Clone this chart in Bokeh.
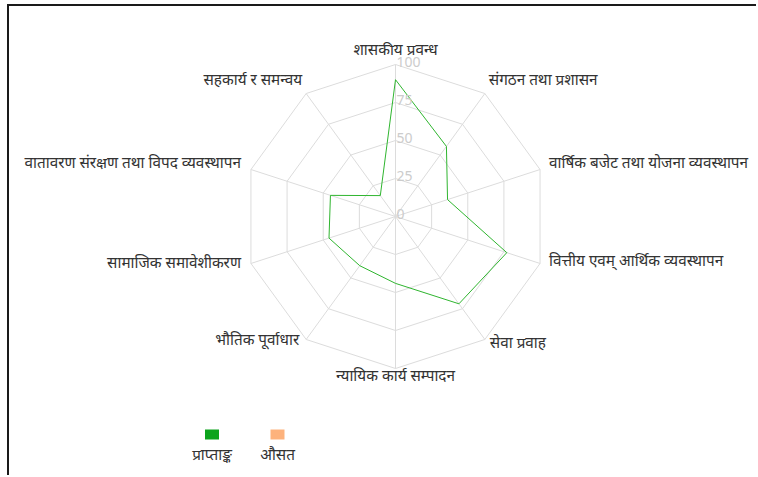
import numpy as np
from bokeh.plotting import figure
from bokeh.models import Range1d, ColumnDataSource
from bokeh.core.properties import value
from bokeh.embed import file_html
from bokeh.resources import INLINE

# ---- data ----
categories = [
    "शासकीय प्रवन्ध",
    "संगठन तथा प्रशासन",
    "वार्षिक बजेट तथा योजना व्यवस्थापन",
    "वित्तीय एवम् आर्थिक व्यवस्थापन",
    "सेवा प्रवाह",
    "न्यायिक कार्य सम्पादन",
    "भौतिक पूर्वाधार",
    "सामाजिक समावेशीकरण",
    "वातावरण संरक्षण तथा विपद व्यवस्थापन",
    "सहकार्य र समन्वय",
]
score = [90, 57, 36, 77, 71, 44, 40, 46, 45, 17]
tick_values = [0, 25, 50, 75, 100]
tick_labels = ["0", "25", "50", "75", "100"]
series_names = ["प्राप्ताङ्क", "औसत"]
series_colors = ["#0ca41c", "#fdb27c"]

# ---- layout ----
OX, OY = 9, 6                 # canvas origin on the page (after margin + border)
W, H = 758 - OX, 477 - OY
PX = 1.52                     # pixels per score unit
CX, CY = 395 - OX, 216 - OY   # centre on canvas (px)
FONT = value("Noto Sans")

p = figure(width=W, height=H, output_backend="svg", toolbar_location=None,
           x_range=Range1d(-CX / PX, (W - CX) / PX),
           y_range=Range1d(-(H - CY) / PX, CY / PX),
           min_border=0)
p.axis.visible = False
p.grid.visible = False
p.outline_line_color = None
p.background_fill_color = "white"
p.border_fill_color = "white"
p.styles = {"border-top": "2px solid #1a1a1a", "border-left": "2px solid #1a1a1a",
            "margin-top": f"{OY - 2}px", "margin-left": f"{OX - 2}px"}

n = len(categories)
ang = np.pi / 2 - np.arange(n) * 2 * np.pi / n
ux, uy = np.cos(ang), np.sin(ang)
vmax = tick_values[-1]

# rings
grid_col = "#dcdcdc"
for t in tick_values[1:]:
    xs = list(ux * t) + [ux[0] * t]
    ys = list(uy * t) + [uy[0] * t]
    p.line(xs, ys, line_color=grid_col, line_width=1)
# spokes
p.segment(x0=np.zeros(n), y0=np.zeros(n), x1=ux * vmax, y1=uy * vmax,
          line_color=grid_col, line_width=1)

# data polygon
sv = np.array(score, dtype=float)
p.line(list(ux * sv) + [ux[0] * sv[0]], list(uy * sv) + [uy[0] * sv[0]],
       line_color="#2fb52f", line_width=1)

# tick labels
p.text(x=[0] * len(tick_values), y=tick_values, text=tick_labels,
       x_offset=1, y_offset=-3, text_font=FONT, text_font_size="14px",
       text_color="#cccccc", text_baseline="alphabetic", text_align="left")

# point labels
aligns = ["center", "left", "left", "left", "left", "center", "right", "right", "right", "right"]
dx = [0, 4, 9, 9, 5, 0, -7, -10, -10, -4]
dy = [-16, -15, -8, -3, 3, 6, 0, -1, -8, -15]
src = ColumnDataSource(dict(x=ux * vmax, y=uy * vmax, t=categories,
                            a=aligns, dx=dx, dy=dy))
p.text(x="x", y="y", text="t", source=src, x_offset="dx", y_offset="dy",
       text_align="a", text_baseline="middle", text_font=FONT,
       text_font_size="15.3px", text_color="#333333")

# legend (squares with labels below), positions given in page pixels
leg_px_x = [211.5, 277]
leg_sq_y = 434
leg_tx_y = 453
lx = [(v - OX - CX) / PX for v in leg_px_x]
p.rect(x=lx, y=[(CY - (leg_sq_y - OY)) / PX] * 2, width=14, height=10,
       width_units="screen", height_units="screen",
       fill_color=series_colors, line_color=None)
p.text(x=lx, y=[(CY - (leg_tx_y - OY)) / PX] * 2, text=series_names,
       text_align="center", text_baseline="middle", text_font=FONT,
       text_font_size="15.3px", text_color="#333333")

open("out.html", "w").write(file_html(p, INLINE))
